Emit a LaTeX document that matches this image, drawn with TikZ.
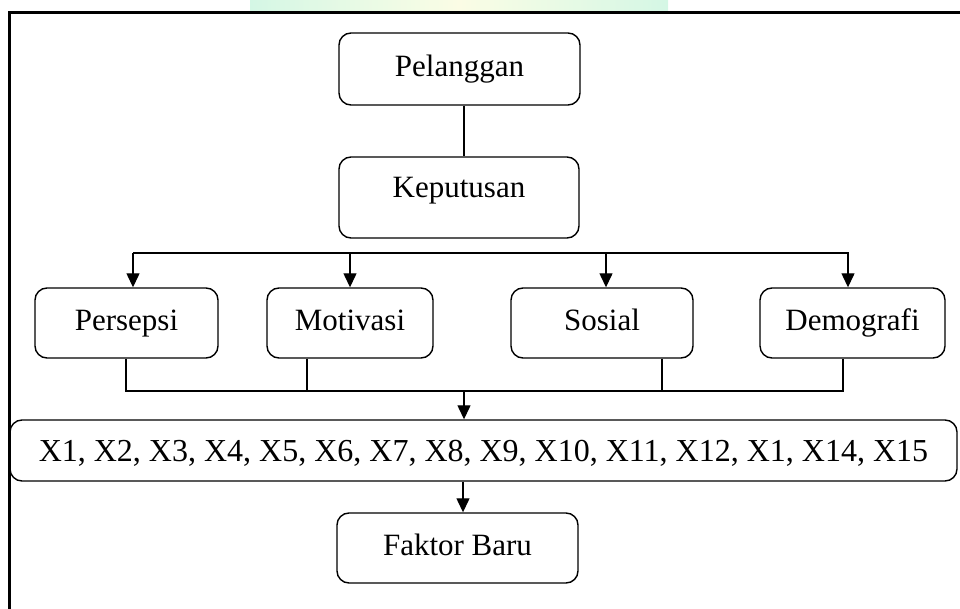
\documentclass[tikz,border=0pt]{standalone}
\usepackage{fontspec}
\setmainfont{Liberation Serif}
\usetikzlibrary{arrows.meta}
\definecolor{mint}{RGB}{205,246,224}
\definecolor{pale}{RGB}{250,252,224}
\begin{document}
\begin{tikzpicture}[x=1pt,y=-1pt,
  box/.style={draw=black,line width=1.4pt,rounded corners=12pt,inner sep=0pt,
    text height=21pt,text depth=7pt,
    font=\fontsize{31}{36}\selectfont},
  conn/.style={draw=black,line width=1.3pt},
  arr/.style={conn,-{Triangle[length=14pt,width=13pt]}}]
\useasboundingbox (0,0) rectangle (960,609);
% faint watermark band
\shade[left color=mint,right color=mint,middle color=pale,opacity=0.85] (250,0) rectangle (668,11);
% frame
\draw[line width=3pt] (9,609) -- (9,12.5) -- (962,12.5);
% nodes
\node[box,minimum width=241pt,minimum height=72pt] (pel) at (459.5,69) {\raisebox{-1pt}{Pelanggan}};
\node[box,minimum width=240pt,minimum height=81pt] (kep) at (459,197.5) {\raisebox{6.5pt}{Keputusan}};
\node[box,minimum width=183pt,minimum height=70pt] (per) at (126.5,323) {Persepsi};
\node[box,minimum width=166pt,minimum height=70pt] (mot) at (350,323) {Motivasi};
\node[box,minimum width=182pt,minimum height=70pt] (sos) at (602,323) {Sosial};
\node[box,minimum width=185pt,minimum height=70pt] (dem) at (852.5,323) {Demografi};
\node[box,minimum width=947pt,minimum height=61pt,font=\fontsize{32}{36}\selectfont] (xl) at (483.5,450.5) {\raisebox{-4pt}{X1, X2, X3, X4, X5, X6, X7, X8, X9, X10, X11, X12, X1, X14, X15}\hspace{17pt}};
\node[box,minimum width=241pt,minimum height=70pt] (fak) at (457.5,548) {Faktor Baru};
% coordinates
\coordinate (a1) at (133,253);
\coordinate (a2) at (350,253);
\coordinate (a3) at (606,253);
\coordinate (a4) at (848,253);
\coordinate (m1) at (126,391);
\coordinate (m2) at (307,391);
\coordinate (m3) at (662,391);
\coordinate (m4) at (843,391);
\coordinate (mj) at (464,391);
\coordinate (v1) at (464,0);
\coordinate (v2) at (463,0);
% connectors
\draw[conn] (pel.south -| v1) -- (kep.north -| v1);
\draw[conn] (a1) -- ([xshift=1pt]a4);
\draw[arr] (a1) -- (a1 |- per.north);
\draw[arr] (a2) -- (a2 |- mot.north);
\draw[arr] (a3) -- (a3 |- sos.north);
\draw[arr] (a4) -- (a4 |- dem.north);
\draw[conn] (m1 |- per.south) -- (m1) -- (m4) -- (m4 |- dem.south);
\draw[conn] (m2 |- mot.south) -- (m2);
\draw[conn] (m3 |- sos.south) -- (m3);
\draw[arr] (mj) -- (mj |- xl.north);
\draw[arr] (xl.south -| v2) -- (fak.north -| v2);
\end{tikzpicture}
\end{document}
